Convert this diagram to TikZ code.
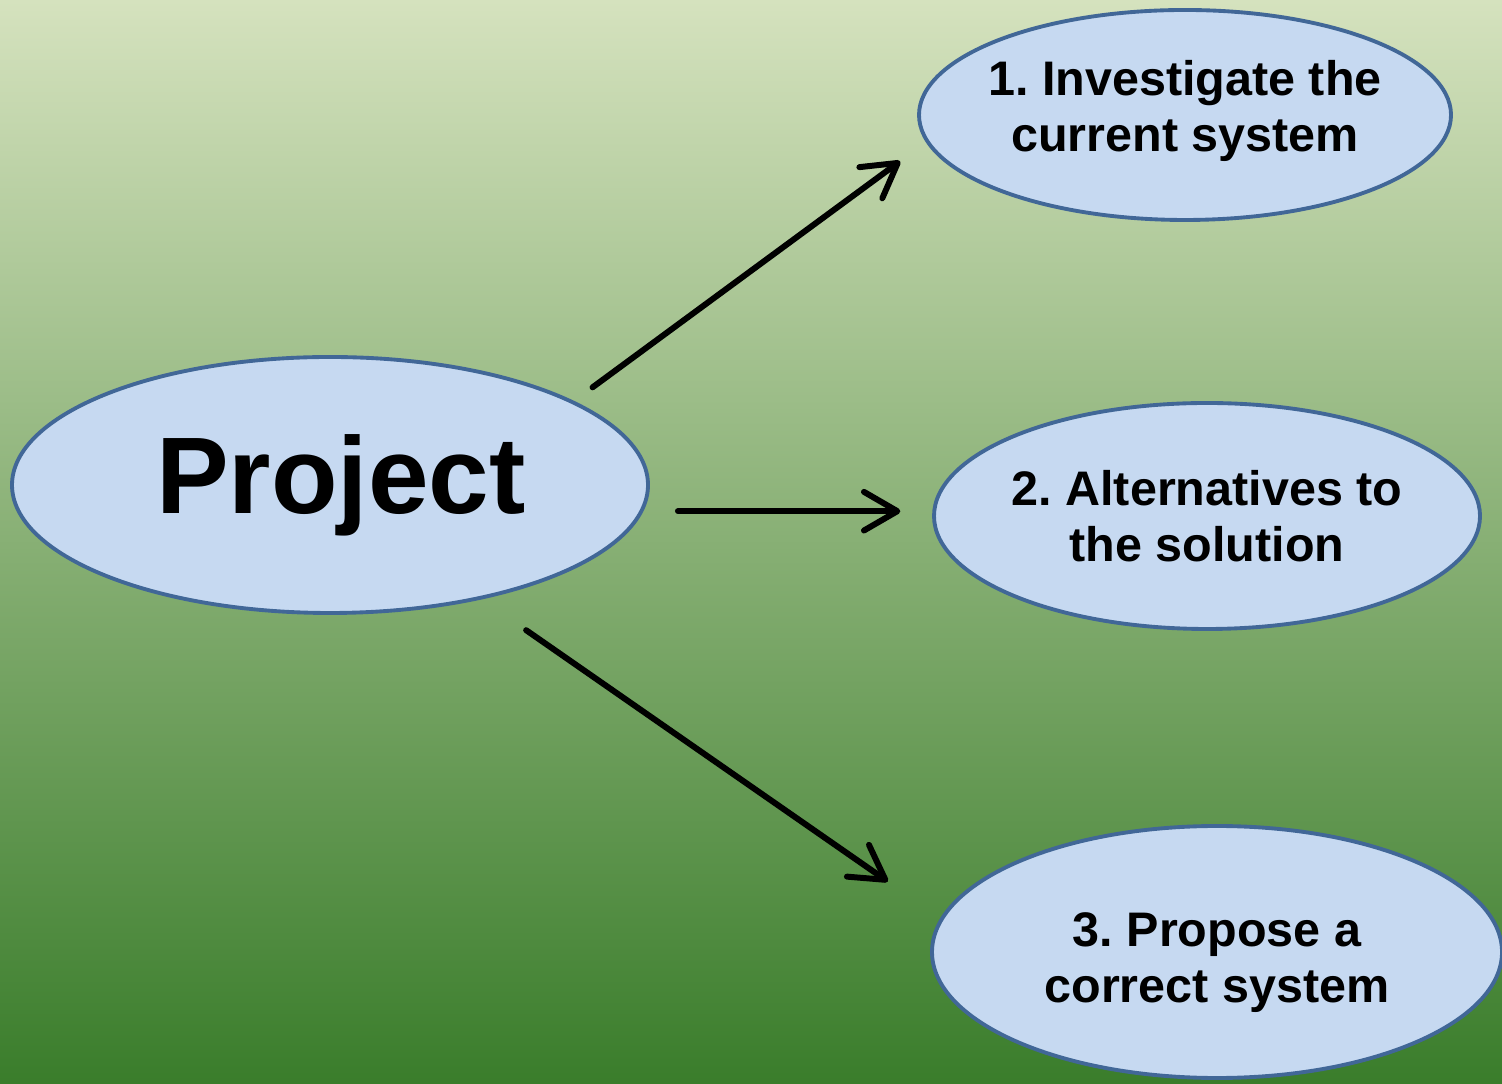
\documentclass[tikz,border=0pt]{standalone}
\usepackage{fontspec}
\setmainfont{Liberation Sans}
\usetikzlibrary{positioning, shapes.geometric, arrows.meta, calc}

\definecolor{bgtop}{RGB}{213,226,190}
\definecolor{bgbottom}{RGB}{58,125,43}
\definecolor{ovalfill}{RGB}{198,217,241}
\definecolor{ovalline}{RGB}{65,103,151}

\begin{document}
\frenchspacing
\begin{tikzpicture}[
    stage/.style={ellipse, draw=ovalline, fill=ovalfill, line width=1.1pt, inner sep=-30pt, align=center, font=\fontsize{13.8}{16}\selectfont\bfseries},
    arrow/.style={-{Straight Barb[length=9.5pt, width=11pt, round]}, line width=1.7pt, line cap=round}
]

% Background
\useasboundingbox (0,0) rectangle (15.02,10.83);
\shade[top color=bgtop, bottom color=bgbottom] (0,0) rectangle (15.02,10.83);

% Nodes
\node[stage, minimum width=6.36cm, minimum height=2.56cm, font=\fontsize{31}{37}\selectfont\bfseries] (project) at (3.30,5.98) {\hspace*{0.22cm}Project};
\node[stage, minimum width=5.32cm, minimum height=2.10cm] (investigate) at (11.85,9.68) {1. Investigate the\\current system\rule[-5.2pt]{0pt}{1pt}};
\node[stage, minimum width=5.46cm, minimum height=2.26cm] (alternatives) at (12.07,5.67) {2. Alternatives to\\the solution};
\node[stage, minimum width=5.70cm, minimum height=2.52cm] (propose) at (12.17,1.31) {\rule{0pt}{15.5pt}3. Propose a\\correct system};

% Connections
\draw[arrow, shorten <=0.23cm, shorten >=0.32cm] (project.19.5) -- (investigate.186.3);
\draw[arrow, shorten <=0.28cm, shorten >=0.32cm] (project.east |- alternatives.179.0) -- (alternatives.179.0);
\draw[arrow, shorten <=0.54cm, shorten >=0.64cm] (project.323.6) -- (propose.173.6);

\end{tikzpicture}
\end{document}
